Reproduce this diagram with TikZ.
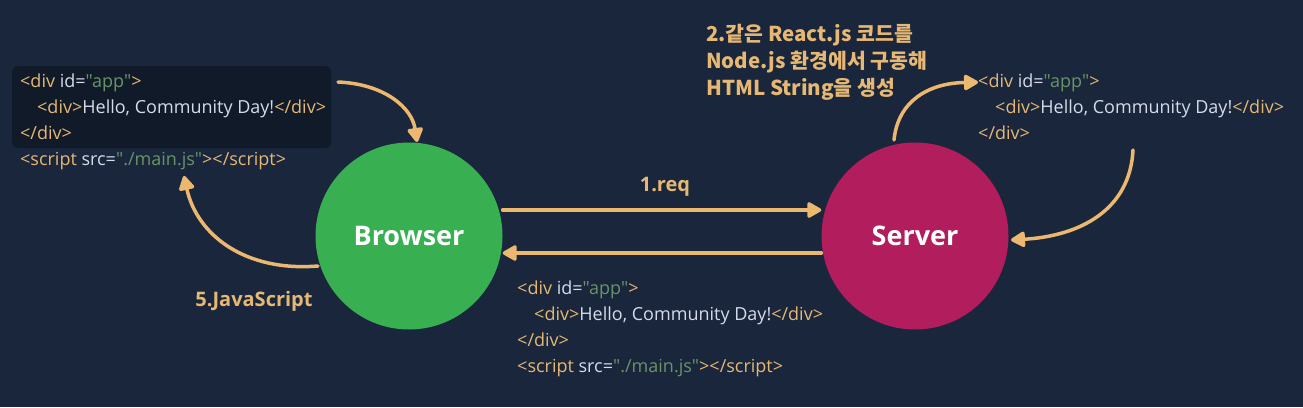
\documentclass[tikz,border=0pt]{standalone}
\usepackage{fontspec}
\setmainfont{Open Sans}
\newfontfamily\codefont{Open Sans}
\newfontfamily\kr{Noto Sans CJK KR}
\usetikzlibrary{arrows.meta}
\definecolor{bg}{RGB}{25,38,59}
\definecolor{boxc}{RGB}{17,26,41}
\definecolor{tagc}{RGB}{230,184,116}
\definecolor{strc}{RGB}{104,148,104}
\definecolor{txtc}{RGB}{214,219,234}
\definecolor{arrc}{RGB}{236,184,112}
\definecolor{grn}{RGB}{56,176,82}
\definecolor{mag}{RGB}{178,29,94}
\newcommand\tg[1]{\textcolor{tagc}{#1}}
\newcommand\st[1]{\textcolor{strc}{#1}}
\newcommand\tx[1]{\textcolor{txtc}{#1}}
\tikzset{
  code/.style={anchor=base west, inner sep=0pt, font=\codefont\fontsize{18}{20}\selectfont},
  lbl/.style={text=tagc, font=\fontsize{20}{22}\selectfont\bfseries},
  circ/.style={circle, minimum size=187pt, inner sep=0pt, text=white, font=\fontsize{27}{29}\selectfont\bfseries},
  arr/.style={draw=arrc, line width=3.5pt, line cap=round, -{Triangle[length=16pt,width=17pt,round]}},
}
\begin{document}
\begin{tikzpicture}[x=1pt,y=-1pt]
\fill[bg] (0,0) rectangle (1303,407);
\useasboundingbox (0,0) rectangle (1303,407);
% left code box
\node[fill=boxc, rounded corners=6pt, minimum width=319pt, minimum height=82pt, anchor=north west, inner sep=0pt] (box) at (12,66) {};
\node[code] (l1) at (20,87) {\tg{<div} \tx{id=}\st{"app"}\tg{>}};
\node[code] (l2) at (37,113) {\tg{<div>}\tx{Hello, Community Day!}\tg{</div>}};
\node[code] (l3) at (20,139) {\tg{</div>}};
\node[code] (l4) at (20,165) {\tg{<script} \tx{src=}\st{"./main.js"}\tg{></script>}};
% right code
\node[code] (r1) at (978,87) {\tg{<div} \tx{id=}\st{"app"}\tg{>}};
\node[code] (r2) at (995,113) {\tg{<div>}\tx{Hello, Community Day!}\tg{</div>}};
\node[code] (r3) at (978,139) {\tg{</div>}};
% bottom code
\node[code] (b1) at (517,294) {\tg{<div} \tx{id=}\st{"app"}\tg{>}};
\node[code] (b2) at (534,320) {\tg{<div>}\tx{Hello, Community Day!}\tg{</div>}};
\node[code] (b3) at (517,346) {\tg{</div>}};
\node[code] (b4) at (517,372) {\tg{<script} \tx{src=}\st{"./main.js"}\tg{></script>}};
% korean label
\node[anchor=north west, inner sep=0pt, text=tagc, align=left, font=\kr\bfseries\fontsize{20.5}{27}\selectfont] (k) at (706,24) {2.같은 React.js 코드를\\Node.js 환경에서 구동해\\HTML String을 생성};
% circles
\node[circ, fill=grn] (browser) at (409,236) {Browser};
\node[circ, fill=mag] (server) at (915,236) {Server};
% labels
\node[lbl] (req) at (665,187) {1.req};
\node[lbl] (js) at (254,301) {5.JavaScript};
% arrows
\coordinate (s1) at (338,82);
\coordinate (t1) at (417,142);
\draw[arr] (s1) .. controls (385,84) and (412,108) .. (t1);
\draw[arr] (browser.east |- 0,210) -- (server.west |- 0,210);
\draw[arr] (server.west |- 0,253) -- (browser.east |- 0,253);
\draw[arr] (894,140) .. controls (898,100) and (930,83) .. (r1.west);
\coordinate (s3) at (1133,150);
\draw[arr] (s3) .. controls (1130,210) and (1080,236) .. (1011,240);
\coordinate (t5) at (184,176);
\draw[arr] (318,266) .. controls (245,272) and (197,235) .. (t5);
\end{tikzpicture}
\end{document}
